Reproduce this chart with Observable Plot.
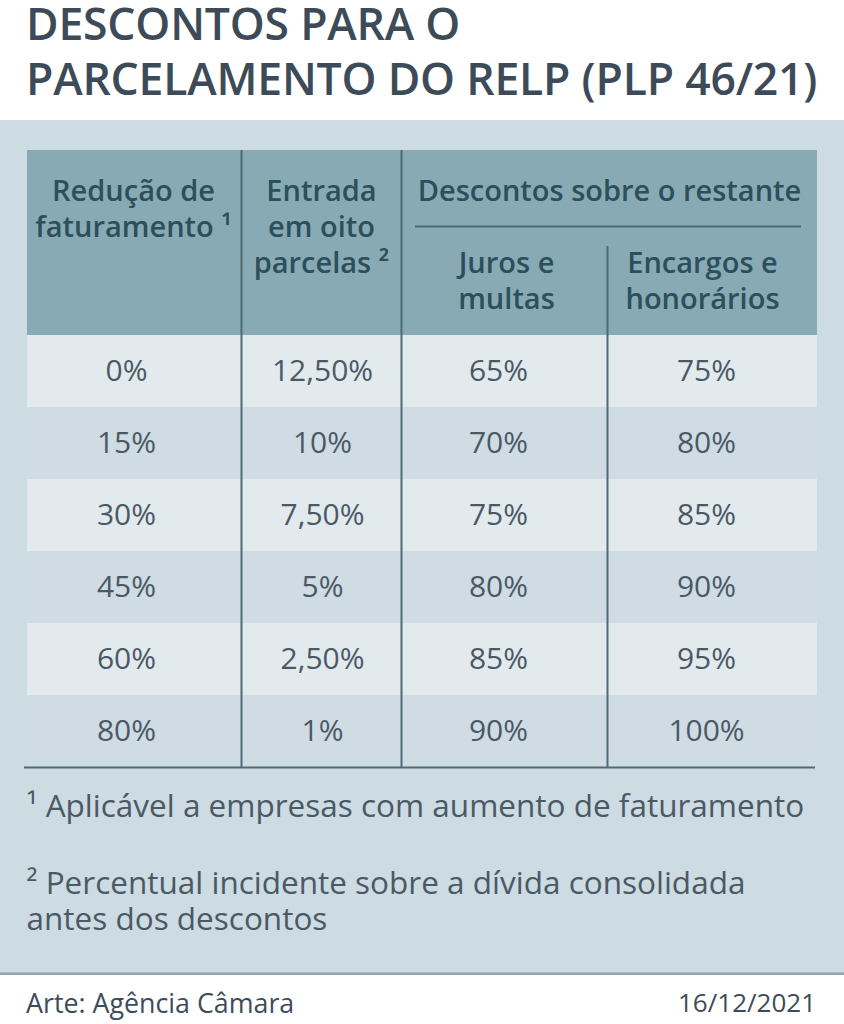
<!DOCTYPE html>
<html>
<head>
<meta charset="utf-8">
<script src="https://cdn.jsdelivr.net/npm/d3@7"></script>
<script src="https://cdn.jsdelivr.net/npm/@observablehq/plot@0.6"></script>
<style>
  html, body { margin: 0; padding: 0; background: #ffffff; }
  body { width: 844px; height: 1024px; overflow: hidden; font-family: 'Open Sans', sans-serif; }
  #title { position: relative; height: 120px; }
  #title div { position: absolute; left: 26px; font-size: 44.5px; line-height: 46px; height: 46px; font-weight: 600; color: #3d4b58; letter-spacing: -0.2px; white-space: nowrap; }
  #t1 { top: 0; }
  #t2 { top: 55px; }
  #chart svg { display: block; }
  #footer { height: 49px; display: flex; justify-content: space-between; align-items: center; padding: 5px 28px 0 26px; font-size: 26px; color: #3e4c59; box-sizing: border-box; }
  #footer span:first-child { font-size: 26.8px; }
</style>
</head>
<body>
<div id="title"><div id="t1">DESCONTOS PARA O</div><div id="t2">PARCELAMENTO DO RELP (PLP 46/21)</div></div>
<div id="chart"></div>
<div id="footer"><span>Arte: Agência Câmara</span><span>16/12/2021</span></div>
<script>
// ---- Data ----
const reducao  = ["0%", "15%", "30%", "45%", "60%", "80%"];
const entrada  = ["12,50%", "10%", "7,50%", "5%", "2,50%", "1%"];
const juros    = ["65%", "70%", "75%", "80%", "85%", "90%"];
const encargos = ["75%", "80%", "85%", "90%", "95%", "100%"];
const headerTop = ["Redução de\nfaturamento ¹", "Entrada\nem oito\nparcelas ²", "Descontos sobre o restante"];
const headerSub = ["Juros e\nmultas", "Encargos e\nhonorários"];
const footnotes = ["¹ Aplicável a empresas com aumento de faturamento", "² Percentual incidente sobre a dívida consolidada\nantes dos descontos"];

// ---- Layout (pixels within the panel) ----
const W = 844, H = 855;
const colEdges = [27, 241, 401, 607, 817];
const bodyX = [126, 322, 498, 706];
const headY0 = 30, rowY0 = 215, rowH = 72;
const columns = [reducao, entrada, juros, encargos];

const rows = reducao.map((_, i) => ({i, y1: rowY0 + i * rowH, y2: rowY0 + (i + 1) * rowH}));
const cells = columns.flatMap((col, c) => col.map((label, i) => ({c, i, label})));
const headCells = [
  {text: headerTop[0], x: 133, y: 87},
  {text: headerTop[1], x: 321, y: 105},
  {text: headerTop[2], x: 609, y: 69},
  {text: headerSub[0], x: 506, y: 159},
  {text: headerSub[1], x: 702, y: 159}
];
const notes = [
  {text: footnotes[0], y: 685},
  {text: footnotes[1], y: 780}
];

const lineColor = "#4e6a76";

const chart = Plot.plot({
  width: W,
  height: H,
  margin: 0,
  x: {type: "linear", domain: [0, W], range: [0, W], axis: null},
  y: {type: "linear", domain: [0, H], range: [0, H], axis: null},
  style: {background: "#cddbe2", fontFamily: "'Open Sans', sans-serif"},
  marks: [
    // header background
    Plot.rect([0], {x1: colEdges[0], x2: colEdges[4], y1: headY0, y2: rowY0, fill: "#87aab4"}),
    // row stripes
    Plot.rect(rows, {x1: colEdges[0], x2: colEdges[4], y1: "y1", y2: "y2", fill: d => d.i % 2 === 0 ? "#e2eaee" : "#cfdce3"}),
    // vertical separators
    Plot.ruleX([colEdges[1], colEdges[2]], {x: d => d, y1: headY0, y2: rowY0 + 6 * rowH, stroke: lineColor, strokeWidth: 2}),
    Plot.ruleX([colEdges[3]], {x: d => d, y1: 126, y2: rowY0 + 6 * rowH, stroke: lineColor, strokeWidth: 2}),
    // line under "Descontos sobre o restante"
    Plot.ruleY([106], {y: d => d, x1: 415, x2: 801, stroke: lineColor, strokeWidth: 2}),
    // bottom line of table
    Plot.ruleY([rowY0 + 6 * rowH], {y: d => d, x1: 24, x2: 815, stroke: lineColor, strokeWidth: 2}),
    // header text
    Plot.text(headCells, {x: "x", y: "y", text: "text", fontSize: 29, fontWeight: 600, fill: "#2c4f5b", lineHeight: 1.25, textAnchor: "middle", lineAnchor: "middle"}),
    // body text
    Plot.text(cells, {x: d => bodyX[d.c], y: d => rowY0 + d.i * rowH + rowH / 2, text: "label", fontSize: 30, fontWeight: 400, fill: "#4b5965", textAnchor: "middle", lineAnchor: "middle"}),
    // footnotes
    Plot.text(notes, {x: 26, y: "y", text: "text", fontSize: 31.5, fill: "#4b5965", textAnchor: "start", lineAnchor: "middle", lineHeight: 1.15}),
    // panel bottom border
    Plot.ruleY([H - 1.5], {y: d => d, stroke: "#97a3aa", strokeWidth: 3})
  ]
});
document.getElementById("chart").appendChild(chart);
</script>
</body>
</html>
